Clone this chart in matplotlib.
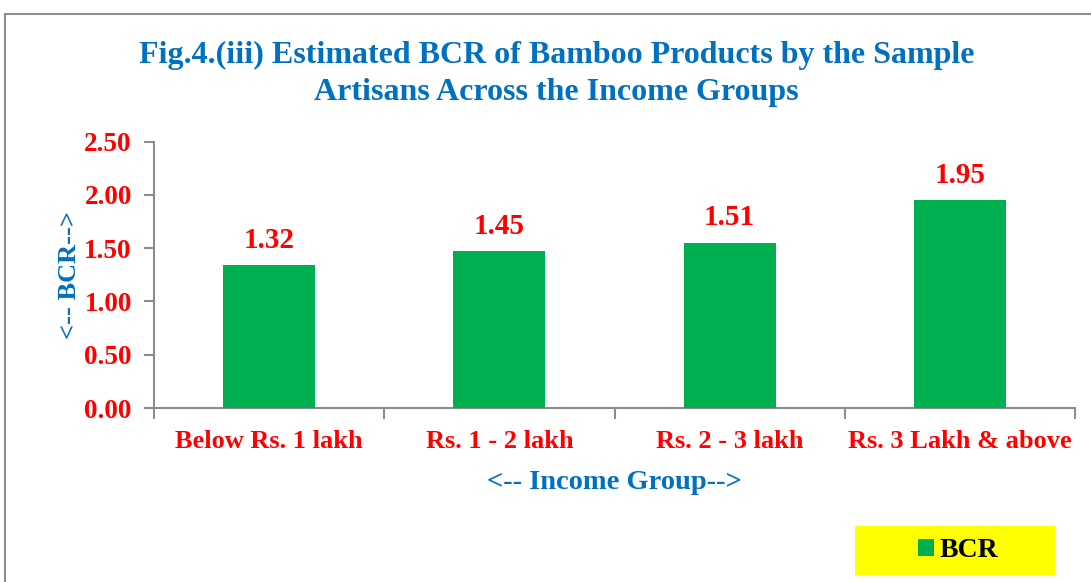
import matplotlib.pyplot as plt
from matplotlib.patches import Rectangle

categories = ["Below Rs. 1 lakh", "Rs. 1 - 2 lakh", "Rs. 2 - 3 lakh", "Rs. 3 Lakh & above"]
bcr = [1.34, 1.47, 1.55, 1.95]          # bar heights as drawn
bcr_labels = ["1.32", "1.45", "1.51", "1.95"]  # data labels as printed
yticks = [0.0, 0.5, 1.0, 1.5, 2.0, 2.5]

BLUE = "#0070C0"; RED = "#FF0000"; GREEN = "#00B050"; GREY = "#8C8C8C"
plt.rcParams['font.family'] = ['Liberation Serif', 'DejaVu Serif']
plt.rcParams['font.weight'] = 'bold'

fig = plt.figure(figsize=(10.91, 5.82), dpi=100)
ax = fig.add_axes([154/1091, 1-408/582, (1075-154)/1091, (408-141.7)/582])

# outer chart border (runs past the right and bottom edges of the image)
fig.patches.append(Rectangle((5/1091, -0.1), 1.2, 1 - 14/582 + 0.1, transform=fig.transFigure,
                             fill=False, edgecolor=GREY, lw=1.5))

x = range(len(categories))
bars = ax.bar(x, bcr, width=0.4, color=GREEN, label="BCR", zorder=3)
for xi, v, lab in zip(x, bcr, bcr_labels):
    ax.text(xi, v + 0.11, lab, ha='center', va='bottom', color=RED, fontsize=21, fontweight='bold')

ax.set_xlim(-0.5, len(categories) - 0.5)
ax.set_ylim(0, 2.5)
ax.set_yticks(yticks)
ax.set_yticklabels([f"{t:.2f}" for t in yticks], color=RED, fontsize=19.5, fontweight='bold')
ax.set_xticks([i - 0.5 for i in range(len(categories) + 1)])
ax.set_xticklabels([])
ax.set_xticks(list(x), minor=True)
ax.set_xticklabels(categories, minor=True, color=RED, fontsize=19, fontweight='bold')
ax.tick_params(axis='x', which='minor', length=0, pad=16)
ax.tick_params(axis='x', which='major', length=8, color=GREY, width=1.5, direction='out')
ax.tick_params(axis='y', length=7, color=GREY, width=1.5, direction='out', pad=9)

for s in ['top', 'right']:
    ax.spines[s].set_visible(False)
for s in ['left', 'bottom']:
    ax.spines[s].set_color(GREY); ax.spines[s].set_linewidth(1.5)

ax.set_xlabel("<-- Income Group-->", color=BLUE, fontsize=20.5, fontweight='bold', labelpad=12)
ax.set_ylabel("<-- BCR-->", color=BLUE, fontsize=19, fontweight='bold', labelpad=2)

fig.text(0.51, 1 - 74/582, "Fig.4.(iii) Estimated BCR of Bamboo Products by the Sample\nArtisans Across the Income Groups",
         ha='center', va='center', color=BLUE, fontsize=23, fontweight='bold', linespacing=1.38)

# yellow legend box
fig.patches.append(Rectangle((855/1091, 1-575/582), 200/1091, 49/582, transform=fig.transFigure,
                             facecolor="#FFFF00", edgecolor='none', zorder=0))
leg = fig.legend(handles=[bars], labels=["BCR"], loc='center', bbox_to_anchor=(958/1091, 1-550.5/582),
                 frameon=False, handlelength=0.55, handleheight=0.55, handletextpad=0.2,
                 prop={'family': 'Liberation Serif', 'weight': 'bold', 'size': 20})

fig.savefig("out.png", dpi=100)
